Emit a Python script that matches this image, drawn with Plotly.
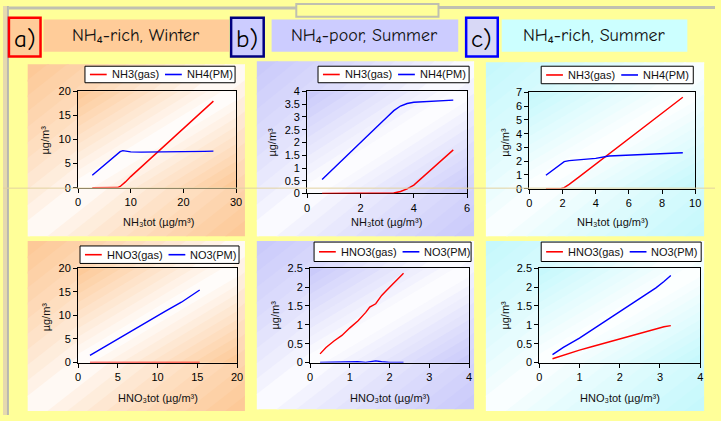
import plotly.graph_objects as go

W, H = 721, 421

# ---------------- data ----------------
# a) NH4-rich, Winter
a1_x = [2.7, 4, 5, 6, 7, 7.5, 8, 8.5, 9, 10, 12, 14, 16, 18, 20, 22, 24, 25.7]
a1_gas = [0, 0, 0, 0, 0, 0.02, 0.25, 0.7, 1.2, 2.3, 4.3, 6.3, 8.3, 10.3, 12.3, 14.2, 16.2, 18.0]
a1_pm = [2.6, 3.8, 4.7, 5.6, 6.6, 7.1, 7.5, 7.7, 7.6, 7.45, 7.4, 7.4, 7.4, 7.45, 7.5, 7.5, 7.55, 7.6]

a2_x = [1.5, 3, 5, 7, 9, 11, 13, 14, 15.3]
a2_gas = [0, 0, 0, 0, 0, 0, 0, 0, 0]
a2_pm = [1.5, 3.0, 5.0, 7.0, 8.9, 10.9, 12.8, 13.9, 15.4]

# b) NH4-poor, Summer
b1_x = [0.56, 1, 1.5, 2, 2.5, 3, 3.25, 3.5, 3.75, 4, 4.5, 5, 5.48]
b1_gas = [0, 0, 0, 0, 0, 0, 0.02, 0.08, 0.18, 0.33, 0.8, 1.27, 1.71]
b1_pm = [0.55, 1.0, 1.5, 2.0, 2.5, 3.0, 3.25, 3.43, 3.53, 3.58, 3.61, 3.63, 3.66]

b2_x = [0.25, 0.4, 0.6, 0.8, 1.0, 1.2, 1.4, 1.5, 1.65, 1.8, 2.0, 2.2, 2.35]
b2_gas = [0.23, 0.4, 0.57, 0.72, 0.92, 1.1, 1.33, 1.47, 1.56, 1.78, 2.0, 2.22, 2.37]
b2_pm = [0, 0.005, 0.01, 0.015, 0.025, 0.02, 0.005, 0.02, 0.045, 0.02, 0.0, 0.0, 0.0]

# c) NH4-rich, Summer
c1_x = [1.0, 1.5, 1.9, 2.1, 2.4, 3, 4, 4.8, 6, 7, 8, 9.25]
c1_gas = [0, 0, 0, 0.08, 0.31, 0.86, 1.78, 2.52, 3.63, 4.55, 5.48, 6.65]
c1_pm = [0.97, 1.45, 1.82, 1.97, 2.04, 2.1, 2.2, 2.38, 2.44, 2.49, 2.54, 2.61]

c2_x = [0.33, 0.6, 1.0, 1.3, 1.6, 2.0, 2.3, 2.6, 2.9, 3.1, 3.27]
c2_gas = [0.1, 0.2, 0.33, 0.42, 0.51, 0.62, 0.72, 0.8, 0.89, 0.95, 0.98]
c2_pm = [0.21, 0.4, 0.65, 0.86, 1.07, 1.35, 1.57, 1.79, 1.98, 2.15, 2.31]

nh_names = ["NH3(gas)", "NH4(PM)"]
no_names = ["HNO3(gas)", "NO3(PM)"]
header_letters = ["a)", "b)", "c)"]
header_titles = ["NH₄-rich, Winter", "NH₄-poor, Summer", "NH₄-rich, Summer"]
x_titles = ["NH₃tot (µg/m³)", "HNO₃tot (µg/m³)"]
y_title = "µg/m³"

# ---------------- helpers ----------------
def fx(x):
    return x / W

def fy(y):
    return 1 - y / H

def hex2rgb(h):
    h = h.lstrip("#")
    return tuple(int(h[i:i + 2], 16) for i in (0, 2, 4))

def mix(c, w):
    r, g, b = hex2rgb(c)
    return "rgb(%d,%d,%d)" % (round(255 + (r - 255) * w), round(255 + (g - 255) * w), round(255 + (b - 255) * w))

def clip(poly, a, b, c):
    out = []
    n = len(poly)
    for i in range(n):
        P = poly[i]
        Q = poly[(i + 1) % n]
        fp = a * P[0] + b * P[1] - c
        fq = a * Q[0] + b * Q[1] - c
        if fp <= 0:
            out.append(P)
        if (fp < 0 < fq) or (fq < 0 < fp):
            t = fp / (fp - fq)
            out.append((P[0] + t * (Q[0] - P[0]), P[1] + t * (Q[1] - P[1])))
    return out

def gradient(x0, y0, x1, y1, col, n=22, power=1.0):
    shapes = []
    sq = [(0, 0), (1, 0), (1, 1), (0, 1)]
    for k in range(n):
        c1 = 2.0 * k / n
        c2 = 2.0 * (k + 1) / n + 0.01
        poly = clip(sq, -1, -1, -c1)
        poly = clip(poly, 1, 1, c2)
        if len(poly) < 3:
            continue
        t = (2.0 * k + 1) / (2 * n)
        w = abs(2 * t - 1) ** power
        pts = [(fx(x0 + u * (x1 - x0)), fy(y0 + v * (y1 - y0))) for u, v in poly]
        path = "M " + " L ".join("%.5f,%.5f" % p for p in pts) + " Z"
        shapes.append(dict(type="path", path=path, xref="paper", yref="paper",
                           fillcolor=mix(col, w), line=dict(width=0), layer="below"))
    return shapes

def rect(x0, y0, x1, y1, fill, line_color=None, lw=0, layer="below"):
    return dict(type="rect", xref="paper", yref="paper", x0=fx(x0), x1=fx(x1), y0=fy(y1), y1=fy(y0),
                fillcolor=fill, line=dict(color=line_color or fill, width=lw), layer=layer)

CW = {"N": 7.22, "H": 7.22, "O": 7.78, "P": 6.67, "M": 8.33, "3": 5.56, "4": 5.56,
      "(": 3.33, ")": 3.33, "g": 5.56, "a": 5.56, "s": 5.0}

def text_w(s, size):
    return sum(CW.get(ch, 5.56) for ch in s) * size / 10.0

# ---------------- panels ----------------
panels = [
    dict(x=a1_x, s=[a1_gas, a1_pm], names=nh_names, col="#FDC794",
         box=(25, 60, 245, 237), plot=(76, 88, 236, 187), xr=30, xd=10, yr=20, yd=5,
         leg=(83, 62, 235, 79), xt=(157, 222), xtt=x_titles[0], yt=(43, 138)),
    dict(x=b1_x, s=[b1_gas, b1_pm], names=nh_names, col="#C8C8FA",
         box=(257, 57, 477, 237), plot=(308, 88, 470, 193), xr=6, xd=2, yr=4, yd=0.5,
         leg=(319, 62, 472, 79), xt=(388, 222), xtt=x_titles[0], yt=(272, 140)),
    dict(x=c1_x, s=[c1_gas, c1_pm], names=nh_names, col="#C4F8FC",
         box=(489, 58, 710, 237), plot=(533, 89, 701, 188), xr=10, xd=2, yr=7, yd=1,
         leg=(545, 62, 699, 80), xt=(617, 222), xtt=x_titles[0], yt=(508, 140)),
    dict(x=a2_x, s=[a2_gas, a2_pm], names=no_names, col="#FDC794",
         box=(25, 242, 245, 417), plot=(76, 270, 237, 367), xr=20, xd=5, yr=20, yd=5,
         leg=(78, 247, 239, 265), xt=(157, 403), xtt=x_titles[1], yt=(43, 320)),
    dict(x=b2_x, s=[b2_gas, b2_pm], names=no_names, col="#C8C8FA",
         box=(257, 242, 477, 415), plot=(311, 270, 472, 367), xr=4, xd=1, yr=2.5, yd=0.5,
         leg=(315, 243, 474, 263), xt=(392, 403), xtt=x_titles[1], yt=(275, 318)),
    dict(x=c2_x, s=[c2_gas, c2_pm], names=no_names, col="#C4F8FC",
         box=(489, 242, 710, 417), plot=(543, 270, 706, 367), xr=4, xd=1, yr=2.5, yd=0.5,
         leg=(545, 243, 707, 263), xt=(625, 403), xtt=x_titles[1], yt=(508, 318)),
]

line_colors = ["#FF0000", "#0000FF"]
FONT = "Liberation Sans, Arial, DejaVu Sans, sans-serif"
FS = 11
tick_font = dict(family=FONT, size=FS, color="#000000")
hdr_font = "Comic Sans MS, Comic Neue, Lato, DejaVu Sans, sans-serif"

fig = go.Figure()
shapes = []
annotations = []
layout = dict(width=W, height=H, margin=dict(l=0, r=0, t=0, b=0),
              paper_bgcolor="#FFFF99", plot_bgcolor="rgba(0,0,0,0)", showlegend=False)

# frame decorations
shapes.append(rect(0, 0, 4, 421, "#E6D9AE"))
shapes.append(dict(type="line", xref="paper", yref="paper", x0=fx(5), x1=fx(5), y0=0, y1=1,
                   line=dict(color="#B8B8B0", width=2), layer="below"))
shapes.append(dict(type="line", xref="paper", yref="paper", x0=fx(5), x1=fx(297), y0=fy(2), y1=fy(2),
                   line=dict(color="#C0C0B0", width=3), layer="below"))
shapes.append(dict(type="line", xref="paper", yref="paper", x0=fx(441), x1=fx(721), y0=fy(1.5), y1=fy(1.5),
                   line=dict(color="#C0C0B0", width=3), layer="below"))
shapes.append(rect(297, -2, 441, 11, "#FFFF99", "#C0C0B0", 2))

# header boxes
hdr = [
    dict(lb=(6, 12, 38, 52), lc="#FF0000", lf="#FFCC99", tb=(41, 14, 229, 47), tf="#FFCC99"),
    dict(lb=(231, 12, 264, 52), lc="#000080", lf="#CCCCFF", tb=(272, 14, 461, 47), tf="#CCCCFF"),
    dict(lb=(469, 12, 501, 52), lc="#0000FF", lf="#D8D8F6", tb=(505, 14, 693, 47), tf="#CCFFFF"),
]
for i, h in enumerate(hdr):
    shapes.append(rect(*h["tb"], h["tf"]))
    shapes.append(rect(*h["lb"], h["lf"], h["lc"], 2.5))
    lb, tb = h["lb"], h["tb"]
    annotations.append(dict(x=fx((lb[0] + lb[2]) / 2), y=fy((lb[1] + lb[3]) / 2 + 1), xref="paper", yref="paper",
                            text=header_letters[i], showarrow=False, xanchor="center", yanchor="middle",
                            font=dict(family=hdr_font, size=25, color="#000000")))
    annotations.append(dict(x=fx((tb[0] + tb[2]) / 2), y=fy((tb[1] + tb[3]) / 2), xref="paper", yref="paper",
                            text=header_titles[i], showarrow=False, xanchor="center", yanchor="middle",
                            font=dict(family=hdr_font, size=18, color="#111111")))

for i, p in enumerate(panels):
    k = i + 1
    sfx = "" if k == 1 else str(k)
    shapes += gradient(*p["box"], p["col"], power=0.75)
    shapes += gradient(*p["plot"], p["col"], power=1.0)
    x0, y0, x1, y1 = p["plot"]
    for j in range(2):
        fig.add_trace(go.Scatter(x=p["x"], y=p["s"][j], mode="lines", name=p["names"][j],
                                 line=dict(color=line_colors[j], width=1.4),
                                 xaxis="x" + sfx, yaxis="y" + sfx, hoverinfo="skip"))
    axcommon = dict(showline=True, linecolor="#000000", linewidth=1, mirror=True, ticks="outside",
                    ticklen=4, tickcolor="#000000", showgrid=False, zeroline=False,
                    tickfont=tick_font, layer="below traces", fixedrange=True)
    layout["xaxis" + sfx] = dict(domain=[fx(x0), fx(x1)], range=[0, p["xr"]], dtick=p["xd"], tick0=0,
                                 anchor="y" + sfx, **axcommon)
    layout["yaxis" + sfx] = dict(domain=[fy(y1), fy(y0)], range=[0, p["yr"]], dtick=p["yd"], tick0=0,
                                 anchor="x" + sfx, **axcommon)

    # legend box drawn with shapes + text
    lx0, ly0, lx1, ly1 = p["leg"]
    shapes.append(rect(lx0, ly0, lx1, ly1, "#FFFFFF", "#000000", 1, layer="above"))
    cy = (ly0 + ly1) / 2
    w1 = text_w(p["names"][0], FS)
    starts = [lx0 + 5, lx0 + 27 + w1 + 7]
    for j in range(2):
        sx = starts[j]
        shapes.append(dict(type="line", xref="paper", yref="paper", x0=fx(sx), x1=fx(sx + 17),
                           y0=fy(cy), y1=fy(cy), line=dict(color=line_colors[j], width=1.6), layer="above"))
        annotations.append(dict(x=fx(sx + 20), y=fy(cy), xref="paper", yref="paper", text=p["names"][j],
                                showarrow=False, xanchor="left", yanchor="middle",
                                font=dict(family=FONT, size=FS, color="#111111")))

    annotations.append(dict(x=fx(p["xt"][0]), y=fy(p["xt"][1]), xref="paper", yref="paper", text=p["xtt"],
                            showarrow=False, xanchor="center", yanchor="middle",
                            font=dict(family=FONT, size=FS, color="#111111")))
    annotations.append(dict(x=fx(p["yt"][0]), y=fy(p["yt"][1]), xref="paper", yref="paper", text=y_title,
                            showarrow=False, xanchor="center", yanchor="middle", textangle=-90,
                            font=dict(family=FONT, size=FS, color="#111111")))

# thin tan guide line across the slide
shapes.append(dict(type="line", xref="paper", yref="paper", x0=0, x1=1, y0=fy(187.5), y1=fy(187.5),
                   line=dict(color="#E2D2A0", width=1), layer="above"))

layout["shapes"] = shapes
layout["annotations"] = annotations
fig.update_layout(**layout)
fig.write_html("out.html", config={"displayModeBar": False, "staticPlot": True},
               post_script="document.body.style.margin='0px';document.body.style.overflow='hidden';")
